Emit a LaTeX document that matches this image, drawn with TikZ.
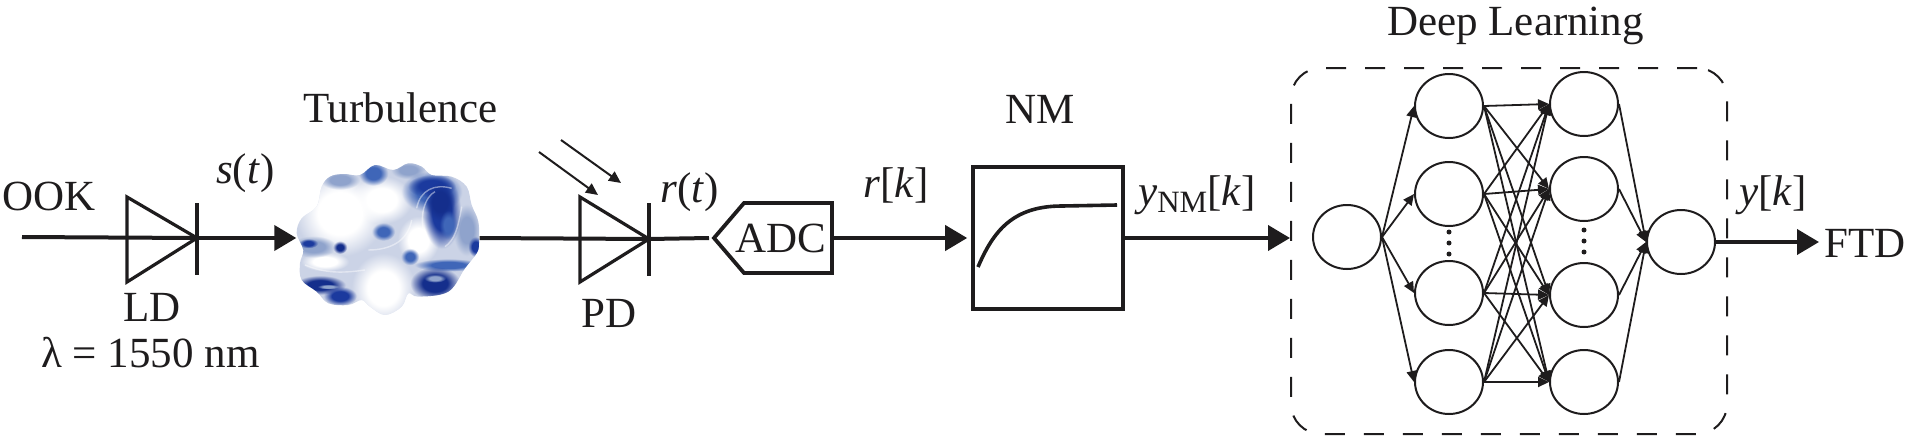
\documentclass[tikz,border=0pt]{standalone}
\usepackage{fontspec}
\setmainfont{Liberation Serif}
\usepackage{xcolor}
\usetikzlibrary{arrows.meta,fadings,shapes.geometric}
\definecolor{ink}{HTML}{1E1C1D}
\definecolor{mist}{HTML}{CBD3E6}
\definecolor{smoke}{HTML}{8FA3CC}
\definecolor{deep}{HTML}{1B3A9E}
\definecolor{navy}{HTML}{142E8C}
\definecolor{sky}{HTML}{3F66B8}
\pgfdeclareradialshading{fuzzyshade}{\pgfpointorigin}{color(0bp)=(pgftransparent!0); color(12bp)=(pgftransparent!0); color(24bp)=(pgftransparent!100); color(50bp)=(pgftransparent!100)}
\pgfdeclarefading{fuzzy}{\pgfuseshading{fuzzyshade}}
\tikzset{
  wire/.style={line width=4pt, draw=ink},
  wiretip/.style={wire, -{Triangle[length=22pt,width=25pt]}},
  diode/.style={line width=3.2pt, draw=ink, line join=miter},
  ray/.style={line width=2pt, draw=ink, -{Triangle[length=12pt,width=11pt]}},
  edge/.style={line width=1.8pt, draw=ink, -{Triangle[length=11pt,width=10pt]}},
  neuron/.style={ellipse, draw=ink, line width=2pt, minimum width=68pt, minimum height=64pt, inner sep=0pt},
  lab/.style={inner sep=0pt, text=ink, font=\fontsize{43}{48}\selectfont},
  blob/.style={path fading=fuzzy},
  swirl/.style={draw=white, line width=1.4pt, opacity=0.45},
  dldot/.style={circle, fill=ink, inner sep=0pt, minimum size=5pt}
}
\begin{document}
\begin{tikzpicture}[x=1pt,y=-1pt]
  \useasboundingbox (0,0) rectangle (1908,437);

  % turbulence cloud
  \begin{scope}[shift={(285,150)},x=0.3333pt,y=-0.3333pt]
    \path[clip] plot[smooth cycle,tension=0.6] coordinates {(35,250) (50,205) (95,170) (110,110) (135,80) (175,72) (225,75) (270,45) (325,60) (370,40) (410,50) (440,75) (500,80) (545,110) (560,165) (580,215) (582,280) (575,310) (540,355) (490,425) (400,440) (370,430) (350,470) (300,495) (255,470) (230,450) (190,465) (130,460) (95,425) (50,390) (45,340) (55,300)};
    \fill[mist] (0,0) rectangle (620,520);
    \fill[white,blob] (165,190) ellipse [x radius=140, y radius=135];
    \fill[white,blob] (295,415) ellipse [x radius=100, y radius=110];
    \fill[white,blob] (290,150) ellipse [x radius=95, y radius=75];
    \fill[white,blob] (120,335) ellipse [x radius=75, y radius=30];
    \fill[white,blob] (400,270) ellipse [x radius=65, y radius=75];
    \fill[smoke,blob] (165,90) ellipse [x radius=62, y radius=30];
    \fill[sky,blob] (265,70) ellipse [x radius=46, y radius=38];
    \fill[smoke,blob] (370,60) ellipse [x radius=55, y radius=28];
    \fill[smoke,blob] (85,290) ellipse [x radius=72, y radius=34];
    \fill[smoke,blob] (545,240) ellipse [x radius=42, y radius=80];
    \fill[navy,blob] (165,292) ellipse [x radius=22, y radius=20];
    \fill[sky,blob] (295,245) ellipse [x radius=36, y radius=28];
    \fill[sky,blob] (375,320) ellipse [x radius=28, y radius=26];
    \fill[deep,blob] (70,280) ellipse [x radius=30, y radius=15];
    \fill[deep,blob] (572,290) ellipse [x radius=24, y radius=32];
    \fill[sky,blob] (490,345) ellipse [x radius=105, y radius=20];
    % dark lobes
    \fill[sky,blob] (440,125) ellipse [x radius=95, y radius=65];
    \fill[deep,blob] (440,108) ellipse [x radius=75, y radius=36];
    \fill[deep,blob] (470,185) ellipse [x radius=60, y radius=115];
    \fill[navy,blob] (465,155) ellipse [x radius=46, y radius=60];
    \fill[sky,blob] (490,225) ellipse [x radius=28, y radius=46];
    \fill[navy,blob] (450,400) ellipse [x radius=78, y radius=52];
    \fill[smoke,blob] (450,385) ellipse [x radius=34, y radius=13];
    \fill[navy,blob] (105,405) ellipse [x radius=80, y radius=30];
    \fill[deep,blob] (165,438) ellipse [x radius=52, y radius=30];
    \fill[smoke,blob] (130,410) ellipse [x radius=34, y radius=8];
    \draw[swirl] (395,175) .. controls (405,120) and (450,100) .. (500,115);
    \draw[swirl] (420,260) .. controls (400,200) and (420,140) .. (450,125);
    \draw[swirl] (530,170) .. controls (520,230) and (510,270) .. (480,290);
    \draw[swirl] (60,345) .. controls (120,370) and (170,370) .. (240,360);
    \draw[swirl] (250,300) .. controls (320,300) and (370,270) .. (380,210);
  \end{scope}
  \node[inner sep=0pt, minimum width=183pt, minimum height=153pt] (cloud) at (388,238) {};

  % laser diode
  \coordinate (ookin) at (22,237);
  \coordinate (ldA) at (127,197);
  \coordinate (ldB) at (127,282);
  \coordinate (ldC) at (197,238);
  \draw[wire] (ookin) -- (ldC);
  \draw[diode] (ldA) -- (ldC) -- (ldB) -- cycle;
  \draw[diode] (197,203) -- (197,275);
  \draw[wiretip] (ldC) -- (cloud.west);

  % photodiode
  \coordinate (pdA) at (580,197);
  \coordinate (pdB) at (580,282);
  \coordinate (pdC) at (649,239);
  \coordinate (adcT) at (714,238);
  \coordinate (adcE) at (832,238);
  \draw[wire] (cloud.east) -- (pdC);
  \draw[wire] (pdC) -- ([xshift=-5pt]adcT);
  \draw[diode] (pdA) -- (pdC) -- (pdB) -- cycle;
  \draw[diode] (649,203) -- (649,276);
  \coordinate (rayA) at (539,152);
  \coordinate (rayB) at (598,195);
  \coordinate (rayC) at (561,140);
  \coordinate (rayD) at (621,183);
  \draw[ray] (rayA) -- (rayB);
  \draw[ray] (rayC) -- (rayD);

  % converter
  \draw[line width=3.8pt, draw=ink] (adcT) -- (744,203) -- (832,203) -- (832,273) -- (744,273) -- cycle;
  \node[lab,anchor=base] (adc) at (781,252) {ADC};

  % nonlinear block
  \node[draw=ink, line width=3.6pt, minimum width=150pt, minimum height=142pt, inner sep=0pt] (nm) at (1048,238) {};
  \draw[line width=3.6pt, draw=ink] (978,267) .. controls (993,232) and (1012,206) .. (1062,206) -- (1117,205);
  \draw[wiretip, shorten >=4pt] (adcE) -- (nm.west);

  % network
  \node[draw=ink, dashed, dash pattern=on 20pt off 19pt, line width=2pt, rounded corners=30pt,
        minimum width=436pt, minimum height=366pt, inner sep=0pt] (dlbox) at (1509,251) {};
  \node[neuron] (in) at (1347,237) {};
  \foreach \n/\y in {1/106,2/194,3/293,4/382}
    \node[neuron] (a\n) at (1449,\y) {};
  \foreach \n/\y in {1/104,2/189,3/295,4/382}
    \node[neuron] (b\n) at (1584,\y) {};
  \node[neuron] (out) at (1681,242) {};
  \foreach \n in {1,2,3,4}
    \draw[edge] (in.east) -- (a\n.west);
  \foreach \n in {1,2,3,4}
    \foreach \m in {1,2,3,4}
      \draw[edge] (a\n.east) -- (b\m.west);
  \foreach \n in {1,2,3,4}
    \draw[edge] (b\n.east) -- (out.west);
  \foreach \y in {232,243,254}
    \node[dldot] at (1449,\y) {};
  \foreach \y in {230,241,252}
    \node[dldot] at (1584,\y) {};

  \coordinate (dlin) at (1290,238);
  \coordinate (ftdin) at (1819,242);
  \draw[wiretip] (nm.east) -- (dlin);
  \draw[wiretip] (out.east) -- (ftdin);

  % labels
  \node[lab,anchor=base west] (ook) at (2,210) {OOK};
  \node[lab,anchor=base west] (turb) at (303,122) {Turbulence};
  \node[lab,anchor=base west] (st) at (216,183) {\textit{s}(\textit{t})};
  \node[lab,anchor=base west] (ld) at (123,321) {LD};
  \node[lab,anchor=base west] (lam) at (41,367) {λ = 1550 nm};
  \node[lab,anchor=base west] (rt) at (660,202) {\textit{r}(\textit{t})};
  \node[lab,anchor=base west] (pd) at (581,327) {PD};
  \node[lab,anchor=base west] (rk) at (863,197) {\textit{r}[\textit{k}]};
  \node[lab,anchor=base west] (nmlab) at (1005,123) {NM};
  \node[lab,anchor=base west] (ynm) at (1138,205) {\textit{y}\raisebox{-7pt}{\fontsize{31}{31}\selectfont NM}[\textit{k}]};
  \node[lab,anchor=base west] (dlab) at (1387,35) {Deep Learning};
  \node[lab,anchor=base west] (yk) at (1739,205) {\textit{y}[\textit{k}]};
  \node[lab,anchor=base west] (ftd) at (1824,257) {FTD};
\end{tikzpicture}
\end{document}
